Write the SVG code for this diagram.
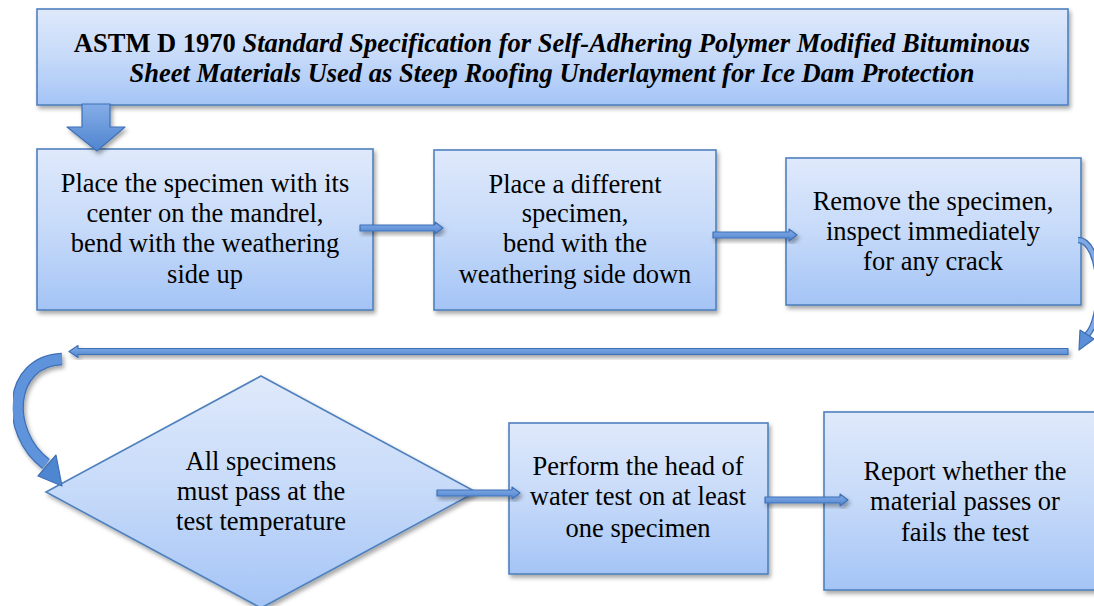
<svg xmlns="http://www.w3.org/2000/svg" width="1094" height="606" viewBox="0 0 1094 606">
<defs>
<linearGradient id="gNode" x1="0" y1="0" x2="0" y2="1">
<stop offset="0" stop-color="#dfe9fb"/>
<stop offset="0.5" stop-color="#c6daf9"/>
<stop offset="1" stop-color="#a4c4f6"/>
</linearGradient>
<linearGradient id="gArrow" x1="0" y1="0" x2="0" y2="1">
<stop offset="0" stop-color="#85aee8"/>
<stop offset="1" stop-color="#4f84cf"/>
</linearGradient>
<filter id="sh" x="-10%" y="-10%" width="125%" height="130%">
<feDropShadow dx="2" dy="3" stdDeviation="2" flood-color="#000" flood-opacity="0.35"/>
</filter>
</defs>
<style>
.node{fill:url(#gNode);stroke:#4f81bd;stroke-width:1.6;filter:url(#sh)}
.t{font-family:"Liberation Serif","Times New Roman",serif;font-size:26.5px;fill:#000;text-anchor:middle}
.tt{font-family:"Liberation Serif","Times New Roman",serif;font-size:26.5px;font-weight:bold;fill:#000;text-anchor:middle}
.arr{fill:url(#gArrow);stroke:#3f70b6;stroke-width:1.2;stroke-linejoin:round;filter:url(#sh)}
</style>

<g id="title">
<rect class="node" x="37" y="9" width="1031" height="96"/>
<text class="tt" x="552" y="52"><tspan>ASTM D 1970 </tspan><tspan font-style="italic">Standard Specification for Self-Adhering Polymer Modified Bituminous</tspan></text>
<text class="tt" x="552" y="82" font-style="italic">Sheet Materials Used as Steep Roofing Underlayment for Ice Dam Protection</text>
</g>

<g id="box1">
<rect class="node" x="37" y="149" width="336" height="161"/>
<text class="t" x="205" y="192">Place the specimen with its</text>
<text class="t" x="205" y="222">center on the mandrel,</text>
<text class="t" x="205" y="252">bend with the weathering</text>
<text class="t" x="205" y="283">side up</text>
</g>

<g id="box2">
<rect class="node" x="434" y="150" width="282" height="160"/>
<text class="t" x="575" y="193">Place a different</text>
<text class="t" x="575" y="222">specimen,</text>
<text class="t" x="575" y="252">bend with the</text>
<text class="t" x="575" y="283">weathering side down</text>
</g>

<g id="box3">
<rect class="node" x="786" y="158" width="295" height="147"/>
<text class="t" x="933" y="210">Remove the specimen,</text>
<text class="t" x="933" y="240">inspect immediately</text>
<text class="t" x="933" y="270">for any crack</text>
</g>

<g id="decision">
<polygon class="node" points="261,376 476,492 261,608 46,492"/>
<text class="t" x="261" y="470">All specimens</text>
<text class="t" x="261" y="500">must pass at the</text>
<text class="t" x="261" y="530">test temperature</text>
</g>

<g id="box4">
<rect class="node" x="509" y="423" width="259" height="151"/>
<text class="t" x="638" y="475">Perform the head of</text>
<text class="t" x="638" y="505">water test on at least</text>
<text class="t" x="638" y="537">one specimen</text>
</g>

<g id="box5">
<rect class="node" x="824" y="412" width="282" height="178"/>
<text class="t" x="965" y="480">Report whether the</text>
<text class="t" x="965" y="510">material passes or</text>
<text class="t" x="965" y="541">fails the test</text>
</g>

<g id="connectors">
<!-- title down arrow -->
<polygon class="arr" points="82,104 110,104 110,127 125,127 97,151 67,127 82,127"/>
<!-- box1 -> box2 -->
<polygon class="arr" points="360,225 435,225 435,222 443,228 435,234 435,231 360,231"/>
<!-- box2 -> box3 -->
<polygon class="arr" points="713,232 789,232 789,229 797,235 789,241 789,238 713,238"/>
<!-- box3 curved down -->
<path d="M1078,240 C1102,240 1106,318 1086,336" fill="none" stroke="#3f70b6" stroke-width="6.5"/>
<path d="M1078,240 C1102,240 1106,318 1086,336" fill="none" stroke="#7fa8e4" stroke-width="4"/>
<polygon points="1080,330 1094,339 1079,350" fill="#5b8fd8" stroke="#3f70b6" stroke-width="1.2" stroke-linejoin="round"/>
<!-- long return arrow -->
<polygon class="arr" points="1068,348.5 78,348.5 78,345.5 69,351.5 78,357.5 78,354.5 1068,354.5"/>
<!-- left curved block arrow -->
<path d="M62,359 C8,361 4,432 46,464" fill="none" stroke="#3f70b6" stroke-width="12.5" filter="url(#sh)"/>
<path d="M62,359 C8,361 4,432 46,464" fill="none" stroke="#5f93db" stroke-width="10"/>
<polygon points="56,455 38,476 62,486" fill="#4f86d2" stroke="#3f70b6" stroke-width="1.2" stroke-linejoin="round"/>
<!-- decision -> box4 -->
<polygon class="arr" points="437,490 512,490 512,487 520,493 512,499 512,496 437,496"/>
<!-- box4 -> box5 -->
<polygon class="arr" points="765,497 840,497 840,494 848,500 840,506 840,503 765,503"/>
</g>
</svg>
